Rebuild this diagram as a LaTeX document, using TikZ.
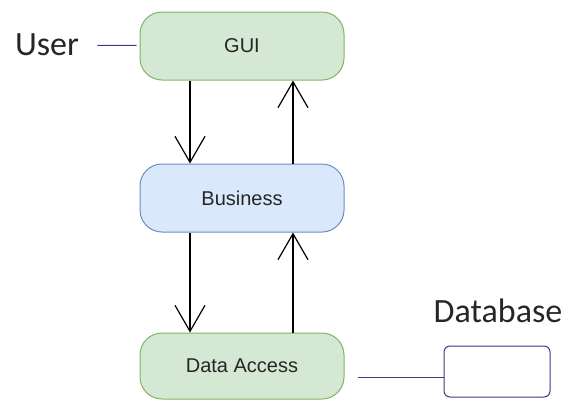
\documentclass[tikz,border=0pt]{standalone}
\usepackage{fontspec}
\setmainfont{Liberation Sans}
\newfontfamily\labelfont{Carlito}
\usepackage{tikz}
\usetikzlibrary{arrows.meta}

\definecolor{layergreen}{HTML}{D5E8D4}
\definecolor{layergreenline}{HTML}{82B366}
\definecolor{layerblue}{HTML}{DAE8FC}
\definecolor{layerblueline}{HTML}{6C8EBF}
\definecolor{linknavy}{HTML}{3A3A8C}
\definecolor{textgray}{HTML}{262626}

\tikzset{
  layer/.style={draw,line width=1pt,rectangle,rounded corners=22pt,minimum width=204pt,minimum height=68pt,text=textgray,font=\fontsize{20}{24}\selectfont},
  greenlayer/.style={layer,fill=layergreen,draw=layergreenline},
  bluelayer/.style={layer,fill=layerblue,draw=layerblueline},
  flow/.style={line width=1.2pt,-{Straight Barb[length=26pt,width=30pt,line width=1.2pt]}},
  link/.style={draw=linknavy,line width=1pt},
  outer/.style={text=textgray,font=\labelfont\fontsize{34}{38}\selectfont}
}

\begin{document}
\begin{tikzpicture}[x=1pt,y=-1pt]
\useasboundingbox (0,0) rectangle (568,400);

\node[greenlayer] (gui) at (242,46) {GUI};
\node[bluelayer] (business) at (242,198) {Business};
\node[greenlayer,minimum height=66pt] (data) at (242,366) {Data Access};

\node[outer] (user) at (47,45) {User};
\node[outer] (dblabel) at (498,311) {Database};
\node[draw=linknavy,line width=1pt,rounded corners=6pt,fill=white,minimum width=106pt,minimum height=51pt] (db) at (497,371.5) {};

% calls go down, results come back up
\draw[flow] ([xshift=-52pt]gui.south) -- ([xshift=-52pt]business.north);
\draw[flow] ([xshift=51pt]business.north) -- ([xshift=51pt]gui.south);
\draw[flow] ([xshift=-52pt]business.south) -- ([xshift=-52pt]data.north);
\draw[flow] ([xshift=51pt]data.north) -- ([xshift=51pt]business.south);

\draw[link,shorten <=15pt,shorten >=3pt] (user) -- (gui);
\draw[link] ([shift={(13pt,-11pt)}]data.east) -- ([yshift=-5.5pt]db.west);
\end{tikzpicture}
\end{document}
